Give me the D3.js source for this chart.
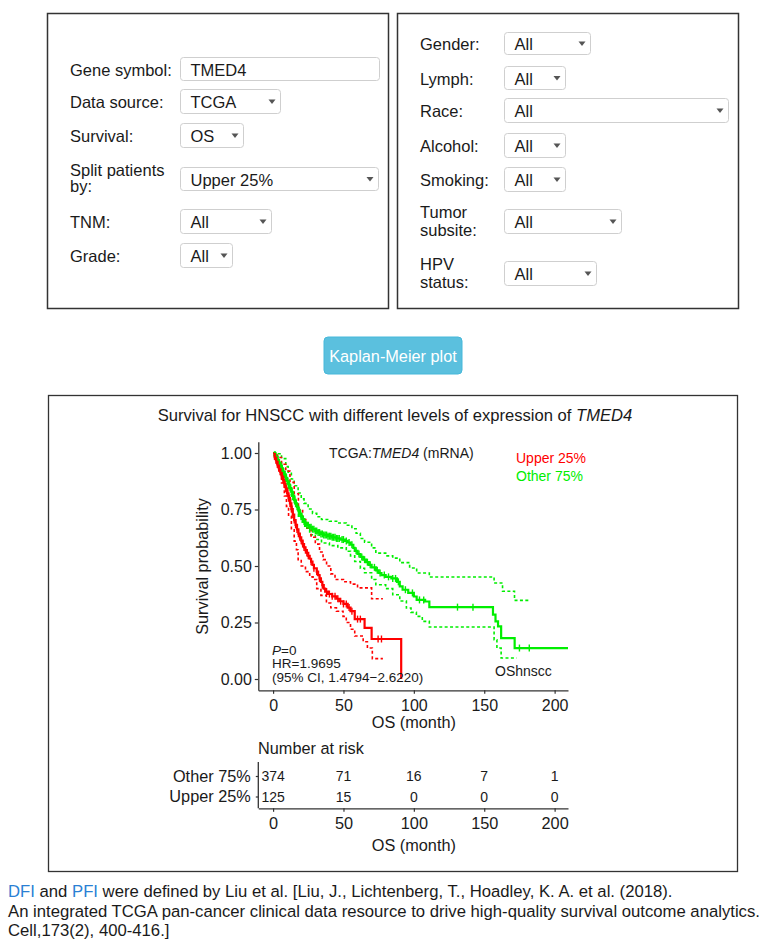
<!DOCTYPE html>
<html><head><meta charset="utf-8">
<script src="https://cdn.jsdelivr.net/npm/d3@7"></script>
<style>
body{margin:0;background:#fff;}
svg text{font-family:"Liberation Sans",Arial,Helvetica,sans-serif;}
</style>
</head><body>
<svg id="c" width="771" height="945"></svg>
<script>
// ---------------- data ----------------
const leftLabels = [["Gene symbol:"],["Data source:"],["Survival:"],["Split patients","by:"],["TNM:"],["Grade:"]];
const leftValues = ["TMED4","TCGA","OS","Upper 25%","All","All"];
const rightLabels = [["Gender:"],["Lymph:"],["Race:"],["Alcohol:"],["Smoking:"],["Tumor","subsite:"],["HPV","status:"]];
const rightValues = ["All","All","All","All","All","All","All"];
const buttonLabel = "Kaplan-Meier plot";

const chartTitle = "Survival for HNSCC with different levels of expression of ";
const geneName = "TMED4";
const groups = ["Other 75%","Upper 25%"];
const xTicks = [0,50,100,150,200];
const yTicks = [0,0.25,0.5,0.75,1];
const riskOther = [374,71,16,7,1];
const riskUpper = [125,15,0,0,0];
const pText = "0";
const hrText = "HR=1.9695";
const ciText = "(95% CI, 1.4794\u22122.6220)";

// Kaplan-Meier steps [month, survival]
const otherSurv = [[0,1],[1,0.992],[2,0.982],[3,0.97],[4,0.958],[5,0.945],[6,0.932],[7,0.918],[8,0.905],[9,0.89],[10,0.875],[11,0.86],[12,0.845],[13,0.828],[14,0.81],[15,0.793],[16,0.777],[17,0.762],[18,0.746],[19,0.732],[20,0.718],[21,0.707],[22,0.697],[23,0.688],[24,0.68],[26,0.671],[28,0.663],[30,0.655],[32,0.648],[34,0.642],[36,0.637],[39,0.632],[42,0.627],[45,0.622],[48,0.617],[51,0.611],[53,0.604],[55,0.594],[57,0.58],[58,0.567],[60,0.553],[62,0.54],[64,0.528],[66,0.517],[68,0.505],[70,0.494],[73,0.481],[75,0.469],[77,0.46],[80,0.452],[84,0.445],[88,0.43],[90,0.41],[92,0.395],[96,0.381],[100,0.365],[102,0.35],[108,0.343],[111,0.318],[156.2,0.285],[158,0.255],[159.8,0.233],[162,0.181],[171.6,0.137],[209.5,0.137]];
const otherUpper = [[0,1],[3,0.997],[6,0.975],[9,0.94],[10.7,0.915],[13,0.885],[15,0.855],[17.8,0.823],[20,0.797],[22,0.777],[24.9,0.752],[28,0.733],[31,0.718],[34.4,0.706],[40,0.698],[46,0.69],[52,0.68],[56,0.665],[59,0.645],[62,0.622],[65,0.605],[70,0.58],[73,0.557],[80,0.545],[85,0.535],[90,0.515],[97,0.491],[102,0.469],[111,0.451],[157,0.425],[163,0.388],[171.5,0.348],[182,0.348]];
const otherLower = [[0,1],[2,0.985],[3.5,0.956],[6,0.91],[8,0.875],[10.7,0.838],[13,0.795],[15.4,0.764],[18,0.72],[20,0.695],[22.5,0.668],[26,0.638],[30,0.617],[34.4,0.602],[40,0.59],[46,0.58],[52,0.565],[55,0.545],[58,0.52],[62,0.49],[65,0.47],[70,0.44],[73,0.417],[80,0.4],[85,0.373],[90,0.345],[94.7,0.314],[98,0.295],[101.8,0.277],[106,0.255],[111,0.23],[157,0.174],[159,0.137],[162,0.093],[173,0.093]];
const otherCensor = [1,1.5,2,2.5,3,3.5,4,4.5,5,5.5,6,6.5,7,7.5,8,8.5,9,9.5,10,10.5,11,11.5,12,12.5,13,13.5,14,14.5,15,15.5,16,16.5,17,17.5,18,18.5,19,19.5,20,20.5,21,21.5,22,22.5,23,24,25,26,27,28,29,30,31,32,33,34,35,36,37,38,39,40,41,42,43,44,45,46,47,49,50,52,54,56,59,61,63,65,67,69,72,74,76,79,82,85,87,89,94,99,104,107,131,142,175,182];

const upperSurv = [[0,1],[1,0.985],[2,0.968],[3,0.95],[4,0.933],[5,0.917],[6,0.9],[7,0.882],[8,0.862],[9,0.842],[10,0.822],[11,0.8],[12,0.777],[13,0.752],[14,0.727],[15,0.703],[16,0.682],[17,0.662],[18,0.643],[19,0.627],[20,0.612],[21,0.597],[22,0.582],[23,0.57],[24,0.558],[25,0.545],[26,0.532],[27,0.519],[28,0.505],[29,0.49],[31,0.475],[32,0.46],[33,0.445],[34,0.43],[35,0.415],[36,0.4],[37,0.387],[39,0.376],[42,0.366],[45,0.355],[47,0.344],[50,0.332],[53,0.316],[55,0.3],[58,0.265],[65,0.226],[70,0.177],[91,0]];
const upperUpper = [[0,1],[3,0.98],[6,0.95],[9,0.92],[12,0.87],[15,0.82],[18,0.75],[21,0.705],[24,0.667],[27,0.627],[30,0.597],[33,0.562],[35.5,0.528],[38,0.5],[41,0.465],[44,0.44],[50,0.43],[55,0.42],[60,0.403],[70,0.355],[78,0.355]];
const upperLower = [[0,1],[1.5,0.97],[3.5,0.94],[6,0.867],[8,0.81],[9.5,0.764],[11,0.72],[13,0.66],[15,0.61],[16.6,0.572],[17.8,0.528],[20,0.5],[23,0.475],[26,0.452],[28.4,0.44],[31,0.4],[34,0.37],[37.9,0.336],[41,0.315],[45,0.3],[49.7,0.277],[52,0.25],[55,0.22],[58,0.19],[64,0.165],[67,0.137],[70.5,0.09],[78,0.09]];
const upperCensor = [1,1.5,2,2.5,3,3.5,4,4.5,5,5.5,6,6.5,7,7.5,8,8.5,9,9.5,10,10.5,11,11.5,12,12.5,13,13.5,14,15,16,17,18,19,20,21,22,23,24,25,27,29,31,33,35,38,40,42,44,46,48,50,52,54,56,60,62,74.6,77];

const footerLines = [
  [["DFI",true],[" and ",false],["PFI",true],[" were defined by Liu et al. [Liu, J., Lichtenberg, T., Hoadley, K. A. et al. (2018).",false]],
  [["An integrated TCGA pan-cancer clinical data resource to drive high-quality survival outcome analytics.",false]],
  [["Cell,173(2), 400-416.]",false]]
];

// ---------------- drawing ----------------
const svg = d3.select("#c");
const txt = "#1a1a1a";
const formFont = 16.5;

// panels
svg.append("rect").attr("x",47.5).attr("y",13.5).attr("width",341).attr("height",295)
  .attr("fill","none").attr("stroke","#333").attr("stroke-width",1.5);
svg.append("rect").attr("x",397.5).attr("y",13.5).attr("width",341).attr("height",295)
  .attr("fill","none").attr("stroke","#333").attr("stroke-width",1.5);

function drawArrow(xc, yc){
  svg.append("path").attr("d",`M${xc-3.5},${yc-2}L${xc+3.5},${yc-2}L${xc},${yc+2.5}Z`).attr("fill","#555");
}
function drawControl(x0,y0,x1,y1,val,arrow){
  svg.append("rect").attr("x",x0+0.5).attr("y",y0+0.5).attr("width",x1-x0).attr("height",y1-y0)
    .attr("rx",3).attr("fill","#fff").attr("stroke","#cfcfcf").attr("stroke-width",1);
  svg.append("text").attr("x",x0+10.5).attr("y",(y0+y1)/2+1).attr("dominant-baseline","central")
    .attr("font-size",formFont).attr("fill",txt).text(val);
  if(arrow) drawArrow(x1-8,(y0+y1)/2+0.5);
}
function drawLabel(x, lines, yc, gap){
  lines.forEach((l,i)=>{
    const y = lines.length===1 ? yc : yc + (i-0.5)*gap;
    svg.append("text").attr("x",x).attr("y",y).attr("dominant-baseline","central")
      .attr("font-size",formFont).attr("fill",txt).text(l);
  });
}
// left layout
const leftGeom = [[180,57,379,80,false],[180,89,280,113,true],[180,123,243,147,true],[180,167,378,190,true],[180,209,271,233,true],[180,243,232,267,true]];
leftLabels.forEach((lab,i)=>{
  const g = leftGeom[i];
  const yc = (g[1]+g[3])/2;
  drawLabel(70, lab, lab.length>1 ? yc-0.5 : yc+1, 16.5);
  drawControl(g[0],g[1],g[2],g[3],leftValues[i],g[4]);
});
// right layout
const rightGeom = [[504,32,590,54],[504,66,565,89],[504,98,728,122],[504,133,565,157],[504,167,565,191],[504,209,621,233],[504,261,596,285]];
rightLabels.forEach((lab,i)=>{
  const g = rightGeom[i];
  const yc = (g[1]+g[3])/2;
  drawLabel(420, lab, lab.length>1 ? yc-0.5 : yc+1, 18);
  drawControl(g[0],g[1],g[2],g[3],rightValues[i],true);
});

// button
svg.append("rect").attr("x",324).attr("y",337).attr("width",138).attr("height",37).attr("rx",4)
  .attr("fill","#5bc0de").attr("stroke","#46b8da");
svg.append("text").attr("x",393).attr("y",356).attr("text-anchor","middle").attr("dominant-baseline","central")
  .attr("font-size",16.3).attr("fill","#fff").text(buttonLabel);

// chart box
svg.append("rect").attr("x",48.5).attr("y",395.5).attr("width",689).attr("height",476)
  .attr("fill","none").attr("stroke","#333").attr("stroke-width",1.3);

const title = svg.append("text").attr("x",395).attr("y",415).attr("text-anchor","middle")
  .attr("dominant-baseline","central").attr("font-size",16.6).attr("fill",txt);
title.append("tspan").text(chartTitle);
title.append("tspan").attr("font-style","italic").text(geneName);

// scales
const x = d3.scaleLinear().domain([-10.5,209.5]).range([258.3,568]);
const y = d3.scaleLinear().domain([-0.05,1.05]).range([690.3,441.7]);

// axes
const yAxis = svg.append("g").attr("transform","translate(258.3,0)")
  .call(d3.axisLeft(y).tickValues(yTicks).tickFormat(d3.format(".2f")).tickSize(3.5).tickSizeOuter(0).tickPadding(3));
const xAxis = svg.append("g").attr("transform","translate(0,690.3)")
  .call(d3.axisBottom(x).tickValues(xTicks).tickSize(3.5).tickSizeOuter(0).tickPadding(6));
[yAxis,xAxis].forEach(a=>{
  a.select(".domain").attr("stroke","#333").attr("stroke-width",1.3);
  a.selectAll(".tick line").attr("stroke","#333").attr("stroke-width",1.2);
  a.selectAll(".tick text").attr("font-size",16).attr("fill",txt).attr("font-family",null);
});
svg.append("text").attr("transform","translate(202,566.5) rotate(-90)").attr("text-anchor","middle")
  .attr("dominant-baseline","central").attr("font-size",16.3).attr("fill",txt).text("Survival probability");
svg.append("text").attr("x",x(100)).attr("y",722).attr("text-anchor","middle").attr("dominant-baseline","central")
  .attr("font-size",16.3).attr("fill",txt).text("OS (month)");

// curves
const red = "#ff0000", green = "#00ee00";
const line = d3.line().x(d=>x(d[0])).y(d=>y(d[1])).curve(d3.curveStepAfter);
const plot = svg.append("g");
[[otherUpper,green],[otherLower,green],[upperUpper,red],[upperLower,red]].forEach(([s,c])=>{
  plot.append("path").attr("d",line(s)).attr("fill","none").attr("stroke",c)
    .attr("stroke-width",1.6).attr("stroke-dasharray","3,2.4");
});
[[otherSurv,green],[upperSurv,red]].forEach(([s,c])=>{
  plot.append("path").attr("d",line(s)).attr("fill","none").attr("stroke",c).attr("stroke-width",2.2);
});
function survAt(series,t){ let s=1; for(const [tt,v] of series){ if(tt<=t) s=v; else break; } return s; }
[[otherCensor,otherSurv,green],[upperCensor,upperSurv,red]].forEach(([cs,s,c])=>{
  plot.selectAll(null).data(cs).enter().append("line")
    .attr("x1",d=>x(d)).attr("x2",d=>x(d))
    .attr("y1",d=>y(survAt(s,d))-3.5).attr("y2",d=>y(survAt(s,d))+3.5)
    .attr("stroke",c).attr("stroke-width",1.4);
});

// annotations
svg.append("text").attr("x",329).attr("y",453).attr("dominant-baseline","central").attr("font-size",14).attr("fill",txt)
  .call(t=>{ t.append("tspan").text("TCGA:"); t.append("tspan").attr("font-style","italic").text(geneName); t.append("tspan").text(" (mRNA)"); });
svg.append("text").attr("x",516).attr("y",458).attr("dominant-baseline","central").attr("font-size",14).attr("fill",red).text(groups[1]);
svg.append("text").attr("x",516).attr("y",476).attr("dominant-baseline","central").attr("font-size",14).attr("fill",green).text(groups[0]);
svg.append("text").attr("x",272).attr("y",649.5).attr("dominant-baseline","central").attr("font-size",13.5).attr("fill",txt)
  .call(t=>{ t.append("tspan").attr("font-style","italic").text("P"); t.append("tspan").text("="+pText); });
svg.append("text").attr("x",272).attr("y",663.5).attr("dominant-baseline","central").attr("font-size",13.5).attr("fill",txt).text(hrText);
svg.append("text").attr("x",272).attr("y",677.5).attr("dominant-baseline","central").attr("font-size",13.5).attr("fill",txt).text(ciText);
svg.append("text").attr("x",495).attr("y",671).attr("dominant-baseline","central").attr("font-size",14).attr("fill",txt).text("OShnscc");

// risk table
svg.append("text").attr("x",258).attr("y",748).attr("dominant-baseline","central").attr("font-size",16.3).attr("fill",txt).text("Number at risk");
const ry = d3.scalePoint().domain(groups).range([776,796.5]);
const rAxisY = svg.append("g").attr("transform","translate(258.3,0)")
  .call(d3.axisLeft(ry).tickSize(2.5).tickSizeOuter(0).tickPadding(5));
rAxisY.select(".domain").attr("d","M0,762V808.3");
const rAxisX = svg.append("g").attr("transform","translate(0,808.3)")
  .call(d3.axisBottom(x).tickValues(xTicks).tickSize(3.5).tickSizeOuter(0).tickPadding(6));
[rAxisY,rAxisX].forEach(a=>{
  a.select(".domain").attr("stroke","#333").attr("stroke-width",1.3);
  a.selectAll(".tick line").attr("stroke","#333").attr("stroke-width",1.2);
  a.selectAll(".tick text").attr("font-size",16.3).attr("fill",txt).attr("font-family",null);
});
[[riskOther,groups[0]],[riskUpper,groups[1]]].forEach(([vals,g])=>{
  svg.selectAll(null).data(vals).enter().append("text")
    .attr("x",(d,i)=>x(xTicks[i])).attr("y",ry(g)).attr("text-anchor","middle").attr("dominant-baseline","central")
    .attr("font-size",14).attr("fill",txt).text(d=>d);
});
svg.append("text").attr("x",x(100)).attr("y",845).attr("text-anchor","middle").attr("dominant-baseline","central")
  .attr("font-size",16.3).attr("fill",txt).text("OS (month)");

// footer
footerLines.forEach((parts,i)=>{
  const t = svg.append("text").attr("x",8).attr("y",891+i*19.5).attr("dominant-baseline","central").attr("font-size",16.7).attr("fill",txt);
  parts.forEach(([s,link])=>{ t.append("tspan").attr("fill",link?"#2a7fd4":txt).text(s); });
});
</script>
</body></html>
